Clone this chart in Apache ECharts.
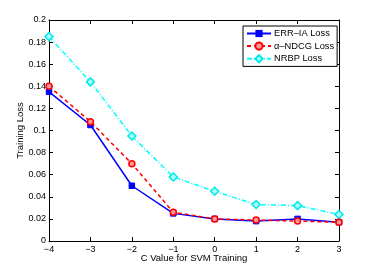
<!DOCTYPE html>
<html><head><meta charset="utf-8">
<script src="https://cdn.jsdelivr.net/npm/echarts@6/dist/echarts.min.js"></script>
<style>html,body{margin:0;padding:0;background:#fff}#c{width:374px;height:272px}</style>
</head><body><div id="c"></div>
<script>
var cValues = [-4, -3, -2, -1, 0, 1, 2, 3];
var errIA = [0.135, 0.105, 0.050, 0.025, 0.020, 0.018, 0.020, 0.017];
var alphaNDCG = [0.140, 0.108, 0.070, 0.026, 0.020, 0.019, 0.018, 0.017];
var nrbp = [0.185, 0.144, 0.095, 0.058, 0.045, 0.033, 0.032, 0.024];
var seriesNames = ['ERR\u2013IA Loss', '\u03b1\u2013NDCG Loss', 'NRBP Loss'];
var xTitle = 'C Value for SVM Training';
var yTitle = 'Training Loss';

function pairs(v){ return cValues.map(function(c,i){ return [c, v[i]]; }); }
var font = 'Liberation Sans, Arial, Helvetica, sans-serif';
var axisLineStyle = {color:'#000', width:1};
function baseX(pos, show){
  return {type:'value', position:pos, min:-4, max:3, interval:1,
    axisLine:{show:true, onZero:false, lineStyle:axisLineStyle},
    axisTick:{show:true, inside:true, length:4, lineStyle:{color:'#000'}},
    axisLabel:{show:show, color:'#000', fontSize:9, fontFamily:font, margin:4,
      formatter:function(v){ return String(v).replace('-', '\u2212'); }},
    splitLine:{show:false}};
}
function baseY(pos, show){
  return {type:'value', position:pos, min:0, max:0.2, interval:0.02,
    axisLine:{show:true, onZero:false, lineStyle:axisLineStyle},
    axisTick:{show:true, inside:true, length:4, lineStyle:{color:'#000'}},
    axisLabel:{show:show, color:'#000', fontSize:9, fontFamily:font, margin:3,
      formatter:function(v){ return String(+v.toFixed(2)); }},
    splitLine:{show:false}};
}
var xa = baseX('bottom', true);
xa.name = xTitle; xa.nameLocation = 'middle'; xa.nameGap = 12; xa.nameMoveOverlap = false;
xa.nameTextStyle = {color:'#000', fontSize:9.5, fontFamily:font};
var ya = baseY('left', true);
ya.name = yTitle; ya.nameLocation = 'middle'; ya.nameGap = 24; ya.nameMoveOverlap = false;
ya.nameTextStyle = {color:'#000', fontSize:9.5, fontFamily:font};
var xt = baseX('top', false);
var yr = baseY('right', false);

var chart = echarts.init(document.getElementById('c'), null, {renderer:'canvas'});
chart.setOption({
  animation:false,
  backgroundColor:'#fff',
  grid:{left:49, right:35, top:20, bottom:31, containLabel:false},
  xAxis:[xa, xt],
  yAxis:[ya, yr],
  legend:{
    left:243, top:26, orient:'vertical', itemGap:3.5,
    itemWidth:24, itemHeight:9,
    borderColor:'#000', borderWidth:1, borderRadius:0, padding:[3,3,3,3],
    backgroundColor:'#fff',
    textStyle:{color:'#000', fontSize:9.3, fontFamily:font, padding:[0,0,0,-2]},
    data:seriesNames
  },
  series:[
    {name:seriesNames[0], type:'line', data:pairs(errIA), xAxisIndex:0, yAxisIndex:0,
      symbol:'rect', symbolSize:5.5, z:3,
      lineStyle:{color:'#0000ff', width:1.5, type:'solid'},
      itemStyle:{color:'#0000ff', borderColor:'#0000ff'}},
    {name:seriesNames[1], type:'line', data:pairs(alphaNDCG), xAxisIndex:0, yAxisIndex:0,
      symbol:'circle', symbolSize:6, z:4,
      lineStyle:{color:'#ff0000', width:1.5, type:[4,3]},
      itemStyle:{color:'#ff9999', borderColor:'#ff0000', borderWidth:1.5}},
    {name:seriesNames[2], type:'line', data:pairs(nrbp), xAxisIndex:0, yAxisIndex:0,
      symbol:'diamond', symbolSize:8, z:2,
      lineStyle:{color:'#00ffff', width:1.5, type:[5,2,1,2]},
      itemStyle:{color:'#aaffff', borderColor:'#00e8e8', borderWidth:1.5}}
  ]
});
</script></body></html>
